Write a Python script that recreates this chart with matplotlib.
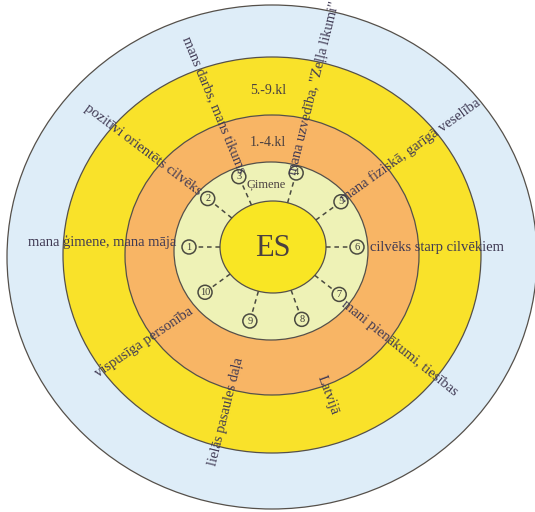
import numpy as np
import matplotlib.pyplot as plt
from matplotlib.patches import Ellipse

# rings, outermost first: (center x, center y, half width, half height) in picture pixels
ring_names = ['outer', '5.-9.kl', '1.-4.kl', 'Ģimene', 'ES']
ring_geom = [(272, 257, 265, 252),
             (272, 255, 209, 198),
             (272, 255, 147, 140),
             (271, 251, 97, 89),
             (273, 247, 53, 46)]
ring_colors = ['#deedf8', '#f9e22a', '#f8b565', '#eef2b6', '#f9e624']

# numbered markers round the inner ring (angle in degrees, counter-clockwise from east)
marker_nums = [1, 2, 3, 4, 5, 6, 7, 8, 9, 10]
marker_angles = [180, 141, 114, 74, 36, 0, -38, -70, -106, -144]

# topic labels with their spot and slant
topics = ['mana ģimene, mana māja', 'pozitīvi orientēts cilvēks',
          'mans darbs, mans tikums', 'mana uzvedība, "Zeļļa likumi"',
          'mana fiziskā, garīgā veselība', 'cilvēks starp cilvēkiem',
          'mani pienākumi, tiesības', 'Latvijā', 'lielās pasaules daļa',
          'vispusīga personība']
topic_xy = [(102, 242), (143, 150), (214, 105), (314, 88), (410, 150),
            (437, 247), (400, 348), (328, 395), (226, 412), (144, 342)]
topic_rot = [0, -37, -67.5, 76, 35.6, 0, -38.7, -70, 76, 34]

txt_color = '#3f3953'
line_color = '#55504a'
serif = ['Liberation Serif', 'DejaVu Serif']

fig = plt.figure(figsize=(5.35, 5.12), dpi=100)
ax = fig.add_axes([0, 0, 1, 1])
ax.set_xlim(0, 535)
ax.set_ylim(512, 0)
ax.axis('off')

for (cx, cy, rx, ry), col in zip(ring_geom, ring_colors):
    ax.add_patch(Ellipse((cx, cy), 2 * rx, 2 * ry, facecolor=col,
                         edgecolor=line_color, linewidth=0.9))

# ring captions
ax.text(268, 90, '5.-9.kl', fontsize=10, family=serif, color='#4a4040', ha='center', va='center')
ax.text(268, 143, '1.-4.kl', fontsize=10, family=serif, color='#4a4040', ha='center', va='center')
ax.text(266, 184, 'Ģimene', fontsize=9, family=serif, color='#4a4040', ha='center', va='center')
ax.text(273, 248, 'ES', fontsize=22, family=serif, color='#4a4040', ha='center', va='center')

# markers with dashed spokes from ES
cx, cy, erx, ery = ring_geom[4]
mrx, mry = 84, 77
for n, a in zip(marker_nums, marker_angles):
    t = np.radians(a)
    x0, y0 = cx + erx * np.cos(t), cy - ery * np.sin(t)
    mx, my = cx + mrx * np.cos(t), cy - mry * np.sin(t)
    x1, y1 = cx + (mrx - 8) * np.cos(t), cy - (mry - 8) * np.sin(t)
    ax.plot([x0, x1], [y0, y1], color='#4a4a40', linestyle=(0, (3, 2.5)), linewidth=1.1)
    ax.add_patch(Ellipse((mx, my), 14, 14, facecolor='none', edgecolor='#4a4a40', linewidth=1.1))
    ax.text(mx, my, str(n), fontsize=7.5, family=serif, color='#3a3a35', ha='center', va='center')

for lab, (x, y), r in zip(topics, topic_xy, topic_rot):
    ax.text(x, y, lab, fontsize=10.5, family=serif, color=txt_color, rotation=r,
            rotation_mode='anchor', ha='center', va='center')

fig.savefig('out.png', dpi=100, facecolor='white')
